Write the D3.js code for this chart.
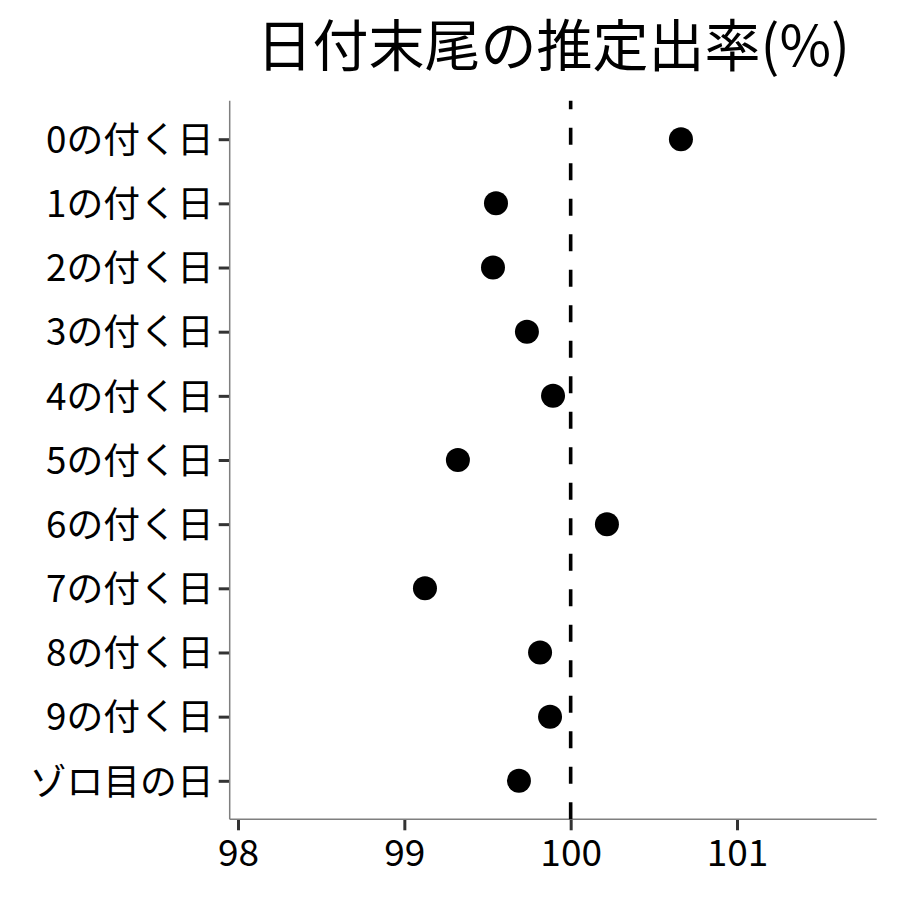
<!DOCTYPE html>
<html>
<head>
<meta charset="utf-8">
<script src="https://cdn.jsdelivr.net/npm/d3@7"></script>
<style>
  body { margin: 0; background: #fff; }
  text { font-family: "Noto Sans CJK JP", "Noto Sans", sans-serif; }
</style>
</head>
<body>
<div id="chart"></div>
<script>
// data
const categories = ["0の付く日","1の付く日","2の付く日","3の付く日","4の付く日","5の付く日","6の付く日","7の付く日","8の付く日","9の付く日","ゾロ目の日"]
const rates = [100.663, 99.551, 99.533, 99.737, 99.894, 99.322, 100.218, 99.124, 99.816, 99.876, 99.689]
const xTicks = [98, 99, 100, 101]
const refValue = 100

// chart dimensions
const margin = {top: 100.7, right: 23.3, bottom: 80.7, left: 229.7}
const width = 900 - margin.left - margin.right
const height = 900 - margin.top - margin.bottom

const svg = d3.select("#chart").append("svg")
  .attr("width", 900)
  .attr("height", 900)

const g = svg.append("g")
  .attr("transform", "translate(" + margin.left + "," + margin.top + ")")

// scales
const x = d3.scaleLinear()
  .domain([97.95, 101.84])
  .range([0, width])

const y = d3.scalePoint()
  .domain(categories)
  .range([0, height])
  .padding(0.6)

// axes
const xAxis = d3.axisBottom(x).tickValues(xTicks).tickFormat(d3.format("d")).tickSize(11).tickPadding(8)
const yAxis = d3.axisLeft(y).tickSize(11).tickPadding(5)

const gx = g.append("g")
  .attr("transform", "translate(0," + height + ")")
  .call(xAxis)
gx.select(".domain").remove()
gx.selectAll(".tick line").attr("stroke", "#333").attr("stroke-width", 3)
gx.selectAll(".tick text")
  .attr("fill", "#000")
  .style("font-size", "37px")
  .attr("dy", "0.75em")

const gy = g.append("g").call(yAxis)
gy.select(".domain").remove()
gy.selectAll(".tick line").attr("stroke", "#333").attr("stroke-width", 3)
gy.selectAll(".tick text")
  .attr("fill", "#000")
  .style("font-size", "36.8px")
  .attr("dy", "0.36em")

// axis lines
g.append("line")
  .attr("x1", 0).attr("x2", width)
  .attr("y1", height).attr("y2", height)
  .attr("stroke", "#7f7f7f").attr("stroke-width", 1.5)
g.append("line")
  .attr("x1", 0).attr("x2", 0)
  .attr("y1", 0).attr("y2", height)
  .attr("stroke", "#7f7f7f").attr("stroke-width", 1.5)

// reference line at 100
g.append("line")
  .attr("x1", x(refValue)).attr("x2", x(refValue))
  .attr("y1", height).attr("y2", 0)
  .attr("stroke", "#000")
  .attr("stroke-width", 3.6)
  .attr("stroke-dasharray", "17,18.5")

// points
g.selectAll(".dot")
  .data(categories)
  .enter().append("circle")
  .attr("class", "dot")
  .attr("cx", (d, i) => x(rates[i]))
  .attr("cy", d => y(d))
  .attr("r", 12)
  .attr("fill", "#000")

// title
svg.append("text")
  .attr("x", margin.left + width / 2)
  .attr("y", 66)
  .attr("text-anchor", "middle")
  .style("font-size", "56px")
  .attr("fill", "#000")
  .text("日付末尾の推定出率(%)")
</script>
</body>
</html>
